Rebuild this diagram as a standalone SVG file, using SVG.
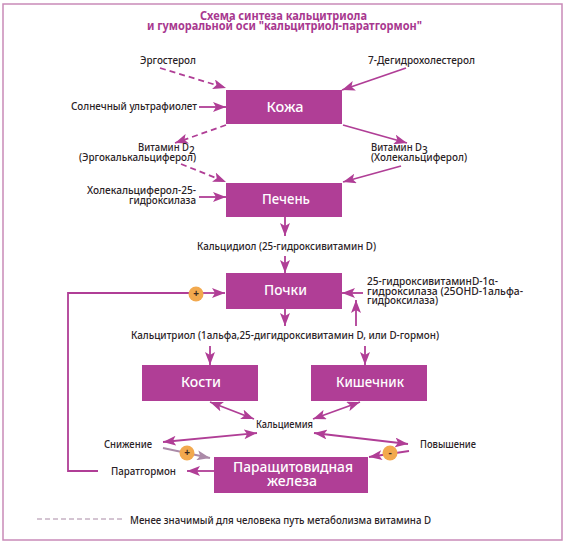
<svg xmlns="http://www.w3.org/2000/svg" width="565" height="543" viewBox="0 0 565 543">
<style>
.box{fill:#b03e96}
.t{font-family:"Noto Sans","Liberation Sans",sans-serif;font-size:10px;fill:#2a2226;font-weight:500}
.n{font-family:"Noto Sans","Liberation Sans",sans-serif;font-size:15px;fill:#fff;font-weight:500;text-anchor:middle}
.h{font-family:"Noto Sans","Liberation Sans",sans-serif;font-size:12px;fill:#a8388f;font-weight:700}
.c line,.c path{stroke:#b03e96;stroke-width:1.800;fill:none}
.d{stroke-dasharray:6 4}
.badge{fill:#f2a94e}
.s{font-family:"Noto Sans","Liberation Sans",sans-serif;font-size:10px;fill:#3a2a20;font-weight:700;text-anchor:middle}
</style>
<defs>
<marker id="a" markerUnits="userSpaceOnUse" markerWidth="14" markerHeight="10" refX="13" refY="5" orient="auto-start-reverse"><path d="M0 0L13 5L0 10L3 5Z" fill="#b03e96"/></marker>
<marker id="g" markerUnits="userSpaceOnUse" markerWidth="14" markerHeight="10" refX="13" refY="5" orient="auto"><path d="M0 0L13 5L0 10L3 5Z" fill="#ab8aa8"/></marker>
</defs>
<rect x="3" y="4" width="559" height="536" fill="#fff" stroke="#c98ab8" stroke-width="1.500"/>
<g id="title">
<text class="h" x="200" y="20" textLength="167" lengthAdjust="spacingAndGlyphs">Схема синтеза кальцитриола</text>
<text class="h" x="147" y="30" textLength="275" lengthAdjust="spacingAndGlyphs">и гуморальной оси "кальцитриол-паратгормон"</text>
</g>
<g id="connectors" class="c">
<line class="d" x1="160" y1="68" x2="226" y2="88" marker-end="url(#a)"/>
<line x1="406" y1="68" x2="342" y2="90" marker-end="url(#a)"/>
<line x1="199" y1="107" x2="226" y2="107" marker-end="url(#a)"/>
<line class="d" x1="226" y1="125" x2="175" y2="143" marker-end="url(#a)"/>
<line x1="343" y1="125" x2="407" y2="143" marker-end="url(#a)"/>
<line class="d" x1="181" y1="164" x2="226" y2="182" marker-end="url(#a)"/>
<line x1="401" y1="166" x2="343" y2="182" marker-end="url(#a)"/>
<line x1="199" y1="197" x2="226" y2="197" marker-end="url(#a)"/>
<line x1="285" y1="217" x2="285" y2="236" marker-end="url(#a)"/>
<line x1="285" y1="256" x2="285" y2="273" marker-end="url(#a)"/>
<path d="M98 471H68V293H196"/>
<line x1="203" y1="293" x2="225" y2="293" marker-end="url(#a)"/>
<line x1="363" y1="293" x2="342" y2="293" marker-end="url(#a)"/>
<line x1="356" y1="326" x2="356" y2="300" marker-end="url(#a)"/>
<line x1="285" y1="309" x2="285" y2="326" marker-end="url(#a)"/>
<line x1="210" y1="346" x2="210" y2="365" marker-end="url(#a)"/>
<line x1="365" y1="346" x2="365" y2="365" marker-end="url(#a)"/>
<line x1="210" y1="402" x2="254" y2="419" marker-start="url(#a)" marker-end="url(#a)"/>
<line x1="360" y1="402" x2="313" y2="419" marker-start="url(#a)" marker-end="url(#a)"/>
<line x1="163" y1="442" x2="257" y2="433" marker-start="url(#a)" marker-end="url(#a)"/>
<line x1="314" y1="433" x2="408" y2="444" marker-start="url(#a)" marker-end="url(#a)"/>
<line x1="163" y1="448" x2="210" y2="458" marker-end="url(#g)" style="stroke:#ab8aa8"/>
<line x1="409" y1="451" x2="369" y2="457" marker-end="url(#a)"/>
<line x1="214" y1="471" x2="187" y2="471" marker-end="url(#a)"/>
<line x1="37" y1="519" x2="125" y2="519" style="stroke:#a98aa5;stroke-width:1;stroke-dasharray:5 3"/>
</g>
<g id="kozha"><rect class="box" x="226" y="90" width="116" height="34"/><text class="n" x="285" y="112" textLength="37" lengthAdjust="spacingAndGlyphs">Кожа</text></g>
<g id="pechen"><rect class="box" x="226" y="183" width="116" height="34"/><text class="n" x="286" y="204" textLength="48" lengthAdjust="spacingAndGlyphs">Печень</text></g>
<g id="pochki"><rect class="box" x="226" y="273" width="116" height="36"/><text class="n" x="285.500" y="295" textLength="43" lengthAdjust="spacingAndGlyphs">Почки</text></g>
<g id="kosti"><rect class="box" x="142" y="365" width="116" height="36"/><text class="n" x="201" y="387" textLength="40" lengthAdjust="spacingAndGlyphs">Кости</text></g>
<g id="kishechnik"><rect class="box" x="311" y="365" width="116" height="36"/><text class="n" x="370" y="387" textLength="68" lengthAdjust="spacingAndGlyphs">Кишечник</text></g>
<g id="parathyroid"><rect class="box" x="214" y="457" width="154" height="36"/><text class="n" x="293" y="472" textLength="120" lengthAdjust="spacingAndGlyphs">Паращитовидная</text><text class="n" x="292" y="486" textLength="50" lengthAdjust="spacingAndGlyphs">железа</text></g>
<g id="badge1"><circle class="badge" cx="196" cy="294" r="7.500"/><text class="s" x="196" y="297">+</text></g>
<g id="badge2"><circle class="badge" cx="187" cy="453" r="7.500"/><text class="s" x="187" y="456">+</text></g>
<g id="badge3"><circle class="badge" cx="390" cy="453" r="7.500"/><text class="s" x="390" y="456">-</text></g>
<g id="labels">
<text class="t" x="140" y="64" textLength="56" lengthAdjust="spacingAndGlyphs">Эргостерол</text>
<text class="t" x="368" y="64" textLength="107" lengthAdjust="spacingAndGlyphs">7-Дегидрохолестерол</text>
<text class="t" x="71" y="110" textLength="126" lengthAdjust="spacingAndGlyphs">Солнечный ультрафиолет</text>
<text class="t" x="138" y="151" textLength="51" lengthAdjust="spacingAndGlyphs">Витамин D</text>
<text class="t" x="189" y="154">2</text>
<text class="t" x="79" y="161" textLength="117" lengthAdjust="spacingAndGlyphs">(Эргокалькальциферол)</text>
<text class="t" x="371" y="151" textLength="51" lengthAdjust="spacingAndGlyphs">Витамин D</text>
<text class="t" x="422" y="154">3</text>
<text class="t" x="371" y="161" textLength="96" lengthAdjust="spacingAndGlyphs">(Холекальциферол)</text>
<text class="t" x="87" y="194" textLength="109" lengthAdjust="spacingAndGlyphs">Холекальциферол-25-</text>
<text class="t" x="129" y="204" textLength="67" lengthAdjust="spacingAndGlyphs">гидроксилаза</text>
<text class="t" x="197" y="250" textLength="179" lengthAdjust="spacingAndGlyphs">Кальцидиол (25-гидроксивитамин D)</text>
<text class="t" x="367" y="285" textLength="131" lengthAdjust="spacingAndGlyphs">25-гидроксивитаминD-1α-</text>
<text class="t" x="367" y="295" textLength="156" lengthAdjust="spacingAndGlyphs">гидроксилаза (25ОНD-1альфа-</text>
<text class="t" x="367" y="304" textLength="71" lengthAdjust="spacingAndGlyphs">гидроксилаза)</text>
<text class="t" x="131" y="339" textLength="308" lengthAdjust="spacingAndGlyphs">Кальцитриол (1альфа,25-дигидроксивитамин D, или D-гормон)</text>
<text class="t" x="256" y="428" textLength="57" lengthAdjust="spacingAndGlyphs">Кальциемия</text>
<text class="t" x="104" y="448" textLength="48" lengthAdjust="spacingAndGlyphs">Снижение</text>
<text class="t" x="420" y="448" textLength="56" lengthAdjust="spacingAndGlyphs">Повышение</text>
<text class="t" x="111" y="475" textLength="65" lengthAdjust="spacingAndGlyphs">Паратгормон</text>
<text class="t" x="130" y="524" textLength="301" lengthAdjust="spacingAndGlyphs">Менее значимый для человека путь метаболизма витамина D</text>
</g>
</svg>
